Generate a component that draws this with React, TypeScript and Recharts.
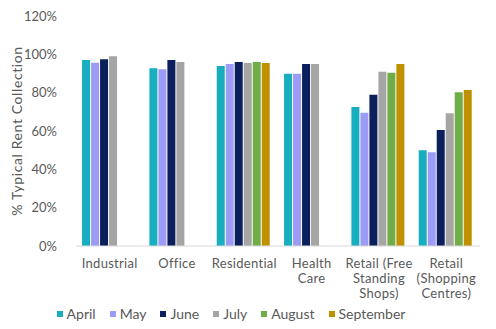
import React from 'react';
import { BarChart, Bar, XAxis, YAxis, Legend } from 'recharts';

const categories = [
    'Industrial',
    'Office',
    'Residential',
    'Health\nCare',
    'Retail (Free\nStanding\nShops)',
    'Retail\n(Shopping\nCentres)',
];

const april = [97, 92.7, 93.9, 89.9, 72.5, 50];
const may = [95.6, 92.2, 95, 89.9, 69.5, 48.9];
const june = [97.5, 97, 96, 95, 78.9, 60.5];
const july = [99, 96, 95.5, 95, 90.9, 69.2];
const august = [null, null, 96, null, 90.4, 80.2];
const september = [null, null, 95.5, null, 95, 81.4];

const yTicks = [0, 20, 40, 60, 80, 100, 120];

const series = [
    { key: 'April', values: april, color: '#17AEBF' },
    { key: 'May', values: may, color: '#9C9CF6' },
    { key: 'June', values: june, color: '#0A1F5C' },
    { key: 'July', values: july, color: '#A5A5A5' },
    { key: 'August', values: august, color: '#70AD47' },
    { key: 'September', values: september, color: '#BF9000' },
];

const data = categories.map((name, i) => {
    const row: Record<string, string | number | null> = { name };
    series.forEach(s => {
        row[s.key] = s.values[i];
    });
    return row;
});

const FONT = 'Lato, "DejaVu Sans", sans-serif';
const TEXT = '#595959';

const CategoryTick = (props: any) => {
    const { x, y, payload } = props;
    const lines = String(payload.value).split('\n');
    return (
        <g transform={`translate(${x},${y})`}>
            {lines.map((line, i) => (
                <text
                    key={i}
                    x={0}
                    y={14 + i * 15}
                    textAnchor="middle"
                    fill={TEXT}
                    fontSize={13}
                    letterSpacing={0.3}
                    fontFamily={FONT}
                >
                    {line}
                </text>
            ))}
        </g>
    );
};

const LegendContent = () => (
    <div style={{ display: 'flex', justifyContent: 'center', gap: 14, fontFamily: FONT, fontSize: 14, color: TEXT, paddingRight: 18, paddingTop: 4 }}>
        {series.map(s => (
            <div key={s.key} style={{ display: 'flex', alignItems: 'center' }}>
                <span style={{ display: 'inline-block', width: 6, height: 6, background: s.color, marginRight: 4 }} />
                <span>{s.key}</span>
            </div>
        ))}
    </div>
);

export default function App() {
    return (
        <div style={{ position: 'absolute', left: 0, top: 0, background: '#fff' }}>
            <BarChart
                width={496}
                height={329}
                data={data}
                margin={{ top: 16, right: 16, bottom: 4, left: 0 }}
                barCategoryGap="9%"
                barGap={1}
            >
                <XAxis
                    dataKey="name"
                    height={55}
                    interval={0}
                    tickLine={false}
                    axisLine={{ stroke: '#D9D9D9' }}
                    tick={<CategoryTick />}
                />
                <YAxis
                    width={76}
                    domain={[0, 120]}
                    ticks={yTicks}
                    interval={0}
                    tickFormatter={(v: number) => `${v}%`}
                    axisLine={false}
                    tickLine={false}
                    tick={{ fill: TEXT, fontSize: 13, fontFamily: FONT }}
                    tickMargin={13}
                    label={{
                        value: '% Typical Rent Collection',
                        angle: -90,
                        position: 'insideLeft',
                        offset: 17,
                        style: { textAnchor: 'middle', fill: TEXT, fontSize: 14, letterSpacing: 0.6, fontFamily: FONT },
                    }}
                />
                <Legend verticalAlign="bottom" height={24} content={<LegendContent />} />
                {series.map(s => (
                    <Bar key={s.key} dataKey={s.key} fill={s.color} isAnimationActive={false} />
                ))}
            </BarChart>
        </div>
    );
}
